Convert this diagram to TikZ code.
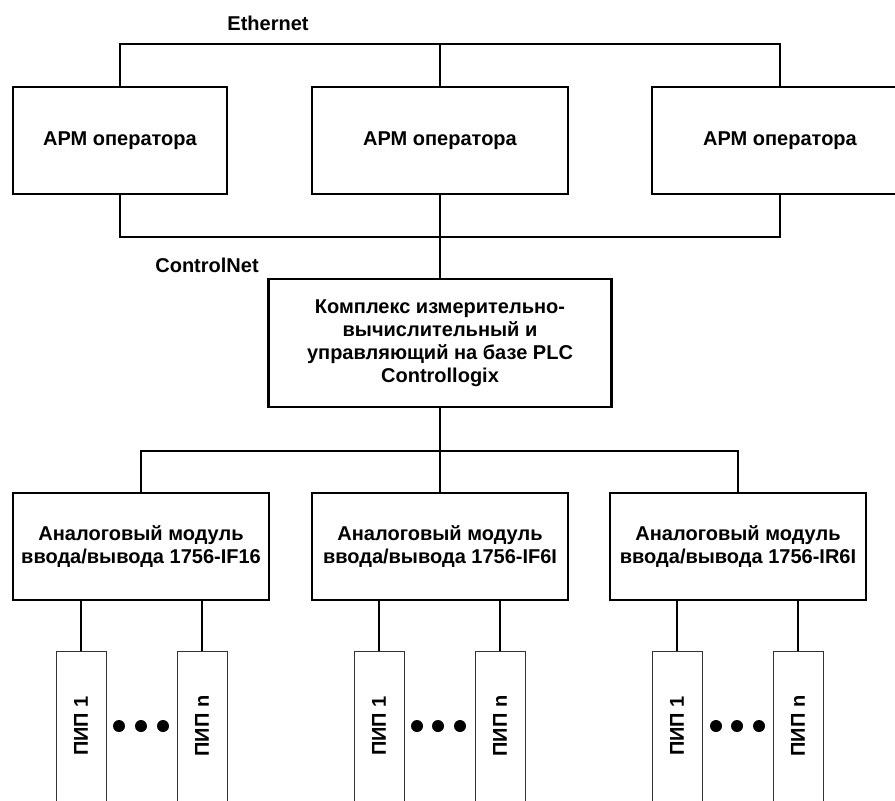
\documentclass[tikz,border=0pt]{standalone}
\usepackage{fontspec}
\usepackage{graphicx}
\setmainfont{Liberation Sans}
\tikzset{every picture/.style={line width=0.75pt}}

\begin{document}
\begin{tikzpicture}[x=0.75pt,y=0.75pt,yscale=-1,xscale=1,
  txt/.style={inner sep=0.75pt, align=center, font=\fontsize{15}{17.25}\selectfont\bfseries},
  box/.style={txt, draw, line width=1.7pt},
  pip/.style={txt, draw=black!80, line width=0.75pt, minimum width=37.5pt, minimum height=112.5pt},
  link/.style={line width=1.2pt},
  dot/.style={circle, fill, inner sep=0pt, minimum size=9pt}]
\clip (0,0) rectangle (895,800);

%APM rectangles
\node [box, minimum width=160.5pt, minimum height=80.25pt] (apm1) at (120,140.5) {АРМ оператора};
\node [box, minimum width=192pt, minimum height=80.25pt] (apm2) at (440,140.5) {АРМ оператора};
\node [box, minimum width=192pt, minimum height=80.25pt] (apm3) at (780,140.5) {АРМ оператора};

%PLC rectangle
\node [box, minimum width=257.25pt, minimum height=96pt] (plc) at (440,343) {Комплекс измерительно-\\вычислительный и\\управляющий на базе PLC\\Controllogix};

%Module rectangles
\node [box, minimum width=192pt, minimum height=80.25pt] (mod1) at (141,546.5) {Аналоговый модуль\\ввода/вывода 1756-IF16};
\node [box, minimum width=192pt, minimum height=80.25pt] (mod2) at (440,546.5) {Аналоговый модуль\\ввода/вывода 1756-IF6I};
\node [box, minimum width=192pt, minimum height=80.25pt] (mod3) at (738,546.5) {Аналоговый модуль\\ввода/вывода 1756-IR6I};

%PIP rectangles
\node [pip] (pip11) at (81,726) {\rotatebox{90}{ПИП 1}};
\node [pip] (pip1n) at (202,726) {\rotatebox{90}{ПИП n}};
\node [pip] (pip21) at (379,726) {\rotatebox{90}{ПИП 1}};
\node [pip] (pip2n) at (500,726) {\rotatebox{90}{ПИП n}};
\node [pip] (pip31) at (677,726) {\rotatebox{90}{ПИП 1}};
\node [pip] (pip3n) at (798,726) {\rotatebox{90}{ПИП n}};

%Dots
\node [dot] (d11) at (119,726) {};
\node [dot] (d12) at (141,726) {};
\node [dot] (d13) at (163,726) {};
\node [dot] (d21) at (417,726) {};
\node [dot] (d22) at (438,726) {};
\node [dot] (d23) at (460,726) {};
\node [dot] (d31) at (716,726) {};
\node [dot] (d32) at (737,726) {};
\node [dot] (d33) at (759,726) {};

% Text Node
\node [txt] (ethlabel) at (268,23) {Ethernet};
% Text Node
\node [txt] (cnlabel) at (207,265) {ControlNet};

%Buses
\coordinate (eth) at (440,44);
\coordinate (cnet) at (440,237);
\coordinate (iobus) at (440,451);
\draw [link] (apm1.north) |- (eth) -| (apm3.north);
\draw [link] (apm2.north) -- (eth);
\draw [link] (apm1.south) |- (cnet) -| (apm3.south);
\draw [link] (apm2.south) -- (plc.north);
\draw [link] (mod1.north) |- (iobus) -| (mod3.north);
\draw [link] (plc.south) -- (mod2.north);

%Module to PIP
\draw [link] (pip11.north) -- (pip11.north |- mod1.south);
\draw [link] (pip1n.north) -- (pip1n.north |- mod1.south);
\draw [link] (pip21.north) -- (pip21.north |- mod2.south);
\draw [link] (pip2n.north) -- (pip2n.north |- mod2.south);
\draw [link] (pip31.north) -- (pip31.north |- mod3.south);
\draw [link] (pip3n.north) -- (pip3n.north |- mod3.south);

\end{tikzpicture}
\end{document}
